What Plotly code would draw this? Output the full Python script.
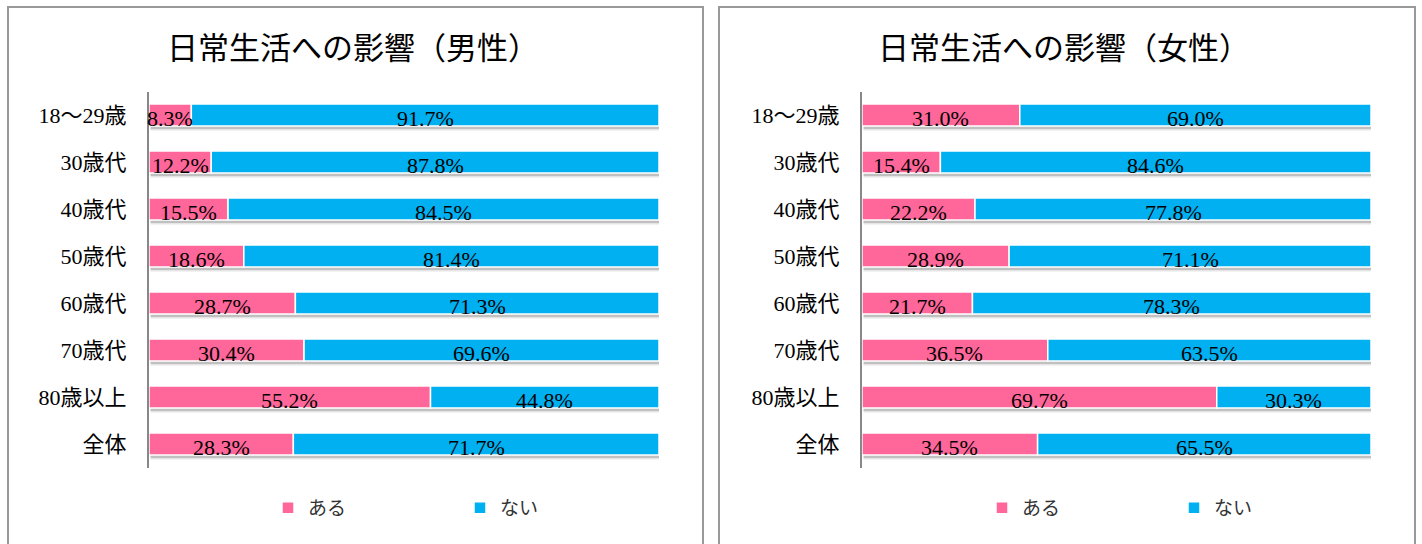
import plotly.graph_objects as go

W, H = 1422, 544

categories = ["18〜29歳", "30歳代", "40歳代", "50歳代", "60歳代", "70歳代", "80歳以上", "全体"]
male_yes = [8.3, 12.2, 15.5, 18.6, 28.7, 30.4, 55.2, 28.3]
male_no = [91.7, 87.8, 84.5, 81.4, 71.3, 69.6, 44.8, 71.7]
female_yes = [31.0, 15.4, 22.2, 28.9, 21.7, 36.5, 69.7, 34.5]
female_no = [69.0, 84.6, 77.8, 71.1, 78.3, 63.5, 30.3, 65.5]
titles = ["日常生活への影響（男性）", "日常生活への影響（女性）"]
series_names = ["ある", "ない"]

PINK = "#FF6699"
BLUE = "#00B0F0"
SERIF = "Liberation Serif, Noto Sans CJK JP, serif"
ROW = 47.0      # px per category row
BAR = 22.0      # bar thickness in px


def px(x):
    return x / W


def py(y):
    return 1 - y / H


fig = go.Figure()

panels = [
    dict(yes=male_yes, no=male_no, x0=149, x1=659, box=(8, 703), legend="legend"),
    dict(yes=female_yes, no=female_no, x0=862, x1=1371, box=(719, 1415), legend="legend2"),
]

bw = BAR / ROW
for i, p in enumerate(panels):
    n = "" if i == 0 else "2"
    totals = [a + b for a, b in zip(p["yes"], p["no"])]
    # soft shadow below each bar (two layers for a bit of blur)
    for off, alpha in [(4.5, 0.10), (3.0, 0.16)]:
        fig.add_trace(go.Bar(
            y=categories, x=totals, base=0.3, orientation="h", xaxis="x" + n, yaxis="y" + n,
            width=bw, offset=-bw / 2 + off / ROW,
            marker=dict(color=f"rgba(0,0,0,{alpha})", line=dict(width=0)),
            showlegend=False, hoverinfo="skip",
        ))
    fig.add_trace(go.Bar(
        y=categories, x=p["yes"], base=0, name=series_names[0], orientation="h",
        xaxis="x" + n, yaxis="y" + n, width=bw, offset=-bw / 2,
        marker=dict(color=PINK, line=dict(color="white", width=1.5)),
        legend=p["legend"],
    ))
    fig.add_trace(go.Bar(
        y=categories, x=p["no"], base=p["yes"], name=series_names[1], orientation="h",
        xaxis="x" + n, yaxis="y" + n, width=bw, offset=-bw / 2,
        marker=dict(color=BLUE, line=dict(color="white", width=1.5)),
        legend=p["legend"],
    ))
    # data labels centred in each segment
    for c, a, b in zip(categories, p["yes"], p["no"]):
        for start, v in [(0, a), (a, b)]:
            fig.add_annotation(x=start + v / 2, y=c, xref="x" + n, yref="y" + n,
                               text=f"{v:.1f}%", showarrow=False, yshift=-3,
                               font=dict(family=SERIF, size=22, color="black"))

ydom = [py(467.5), py(91.5)]
common_x = dict(range=[0, 100], showgrid=False, zeroline=False, showticklabels=False, fixedrange=True)
common_y = dict(autorange="reversed", showgrid=False, zeroline=False, showline=True,
                linecolor="#888888", linewidth=2, ticks="", ticklabelstandoff=16,
                tickfont=dict(family=SERIF, size=22, color="black"))
leg = dict(orientation="h", y=py(508), xanchor="left", yanchor="middle",
           entrywidth=147, entrywidthmode="pixels", itemwidth=30,
           font=dict(family=SERIF, size=19, color="#333333"), traceorder="normal")

fig.update_layout(
    width=W, height=H, margin=dict(l=0, r=0, t=0, b=0),
    paper_bgcolor="white", plot_bgcolor="rgba(0,0,0,0)",
    barmode="overlay",
    xaxis=dict(domain=[px(149), px(659)], **common_x),
    xaxis2=dict(domain=[px(862), px(1371)], **common_x),
    yaxis=dict(domain=ydom, anchor="x", **common_y),
    yaxis2=dict(domain=ydom, anchor="x2", **common_y),
    legend=dict(x=px(268), **leg),
    legend2=dict(x=px(982), **leg),
    showlegend=True,
)

for p, t in zip(panels, titles):
    x0, x1 = p["box"]
    fig.add_shape(type="path", xref="paper", yref="paper",
                  path=f"M {px(x0)} {py(H + 5)} L {px(x0)} {py(7)} L {px(x1)} {py(7)} L {px(x1)} {py(H + 5)}",
                  line=dict(color="#999999", width=2))
    fig.add_annotation(text=t, xref="paper", yref="paper", x=px((x0 + x1) / 2 - 3), y=py(48),
                       showarrow=False, xanchor="center", yanchor="middle",
                       font=dict(family=SERIF, size=31, color="black"))

fig.write_html("out.html", config={"displayModeBar": False},
               post_script="document.body.style.margin='0';")
